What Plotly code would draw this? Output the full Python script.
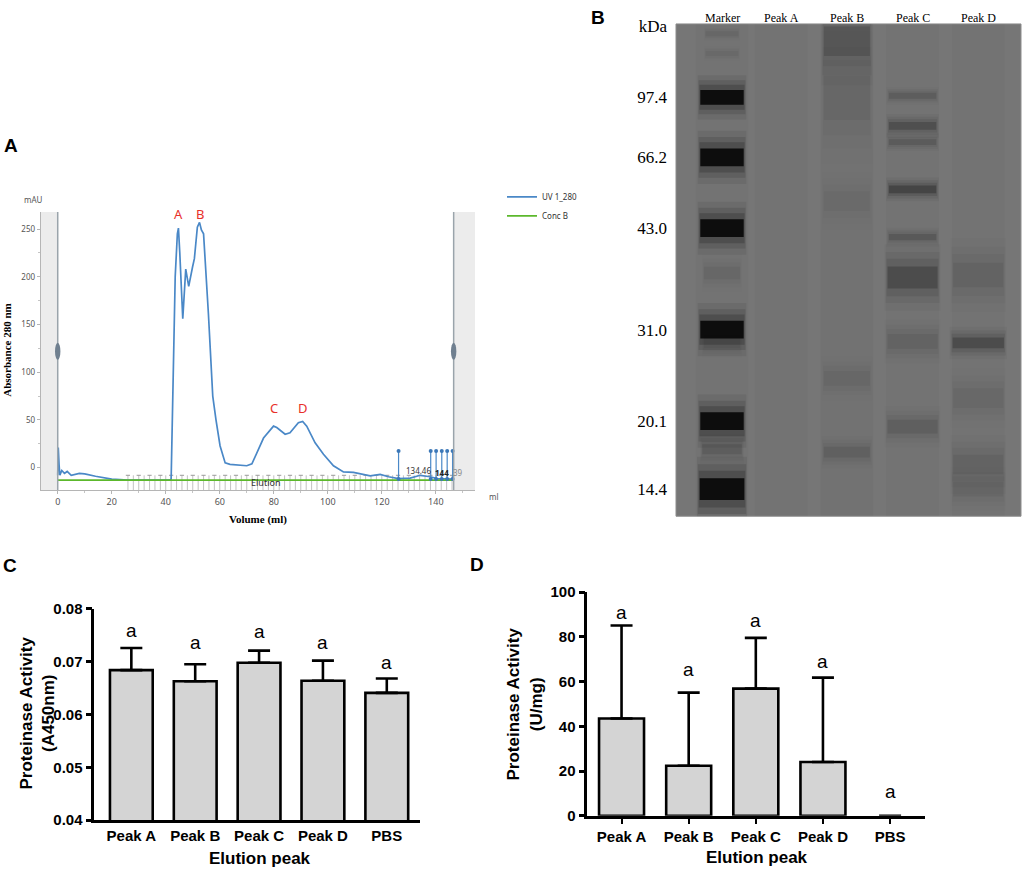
import plotly.graph_objects as go

W, H = 1024, 872

# ---------------- panel A : chromatogram ----------------
uv_ml = [0.0, 0.2, 0.5, 0.8, 1.5, 2.5, 3.5, 5, 8, 10, 14, 20, 26, 30, 41.5, 42.0, 42.5, 43.5,
         44.3, 44.7, 45.2, 46.3, 47.4, 48.5, 49.9, 50.6, 51.7, 52.5, 53.2, 54.0, 55.8, 57.4,
         58.6, 60.1, 62, 63.8, 70, 71.9, 76.2, 79.9, 81.1, 84.2, 86, 89.1, 90.7, 92.2, 95.3,
         98.4, 102.1, 105.8, 109.5, 113.2, 115.7, 119.4, 122.5, 126.2, 130.5, 134.2, 137.9,
         140.4, 146.5]
uv_mau = [-8, 21, 3, -8, -3, -6, -4, -8, -6, -6.5, -9, -12, -13, -13, -13, -12, 60, 200,
          245, 251, 225, 156, 208, 190, 210, 219, 252, 257, 249, 245, 161, 75,
          50, 23, 5, 3.5, 2, 4, 31, 43.5, 42, 35, 36.5, 47, 48.5, 43.5, 26,
          14, 2, -4.5, -5, -7, -8.5, -7, -9.5, -11.5, -11, -8, -9.5,
          -11.5, -12]
concb_ml = [0, 146.5]
concb_val = [-13, -13]

fraction_ml = [26, 28, 30, 32, 34, 36, 38, 40, 42, 44, 46, 48, 50, 52, 54, 56, 58, 60, 62, 64,
               66, 68, 70, 72, 74, 76, 78, 80, 82, 84, 86, 88, 90, 92, 94, 96, 98, 100, 102,
               104, 106, 108, 110, 112, 114, 116, 118, 120, 122, 124, 126, 128, 130, 132, 134,
               136, 138, 140, 142, 144, 146]
event_ml = [126.2, 138.1, 140.1, 142.2, 144.2, 146.2]

peak_names = ["A", "B", "C", "D"]
peak_ml = [44.7, 52.5, 80.0, 90.7]
peak_label_y = [266, 266, 62, 62]

# ---------------- panel B : SDS-PAGE ----------------
lanes = ["Marker", "Peak A", "Peak B", "Peak C", "Peak D"]
lane_pos = [0.0, 0.9, 1.9, 2.9, 3.9]
kda_labels = ["kDa", "97.4", "66.2", "43.0", "31.0", "20.1", "14.4"]
kda_rf = [0.005, 0.149, 0.271, 0.415, 0.621, 0.807, 0.945]

# lane index, migration (0 top .. 1 bottom), band height, darkness, band width
band_lane = [0, 0, 0, 0, 0, 0, 0, 0, 0, 0, 0,
             2, 2, 2, 2, 2,
             3, 3, 3, 3, 3, 3, 3, 3,
             4, 4, 4, 4, 4]
band_rf = [0.149, 0.271, 0.415, 0.621, 0.807, 0.945, 0.02, 0.06, 0.506, 0.648, 0.864,
           0.035, 0.15, 0.36, 0.72, 0.87,
           0.146, 0.207, 0.24, 0.336, 0.433, 0.515, 0.645, 0.818,
           0.51, 0.648, 0.76, 0.895, 0.945]
band_h = [0.03, 0.036, 0.036, 0.036, 0.036, 0.044, 0.01, 0.01, 0.025, 0.02, 0.02,
          0.06, 0.09, 0.04, 0.03, 0.022,
          0.012, 0.016, 0.012, 0.016, 0.013, 0.045, 0.03, 0.028,
          0.05, 0.022, 0.04, 0.04, 0.03]
band_dark = [1.0, 1.0, 1.0, 1.0, 1.0, 1.0, 0.12, 0.08, 0.12, 0.1, 0.22,
             0.3, 0.1, 0.06, 0.1, 0.18,
             0.22, 0.4, 0.25, 0.55, 0.28, 0.45, 0.15, 0.2,
             0.15, 0.45, 0.1, 0.15, 0.12]
band_w = [0.66, 0.66, 0.66, 0.66, 0.66, 0.68, 0.5, 0.5, 0.55, 0.55, 0.6,
          0.7, 0.7, 0.7, 0.7, 0.7,
          0.72, 0.72, 0.72, 0.72, 0.72, 0.76, 0.76, 0.76,
          0.76, 0.78, 0.76, 0.76, 0.76]
lane_shade = [0.025, 0.03, 0.035, 0.03, 0.03]

# ---------------- panels C & D : activity ----------------
groups = ["Peak A", "Peak B", "Peak C", "Peak D", "PBS"]
a450_mean = [0.0684, 0.0663, 0.0698, 0.0664, 0.0641]
a450_sd = [0.0042, 0.0032, 0.0023, 0.0038, 0.0027]
a450_letter_y = [0.0759, 0.0736, 0.0757, 0.0736, 0.0699]
umg_mean = [43.5, 22.4, 56.9, 24.1, 0]
umg_sd = [41.6, 32.7, 22.7, 37.7, 0]
umg_letter_y = [91.1, 65.5, 87.4, 69.2, 11.1]
letters = ["a", "a", "a", "a", "a"]

# the photographed page lands ~8px lower and ~1.6% shorter than the figure itself,
# so vertical positions read off the reference are mapped back before use
Y_SHIFT, Y_SCALE = 8, 0.984


def px_x(v):
    return v / W


def px_y(v):
    return 1 - max(0.0, (v - Y_SHIFT) / Y_SCALE) / H


fig = go.Figure()

# ---- A traces
frac_x, frac_y = [], []
for m in fraction_ml:
    frac_x += [m, m, None]
    frac_y += [-23.4, -8, None]
fig.add_trace(go.Scatter(x=frac_x, y=frac_y, mode="lines", line=dict(color="#b3b3b3", width=0.8),
                         showlegend=False, hoverinfo="skip", xaxis="x", yaxis="y"))
fig.add_trace(go.Scatter(x=fraction_ml[::2], y=[-8] * len(fraction_ml[::2]), mode="markers",
                         marker=dict(symbol="line-ew", size=3, line=dict(color="#999999", width=1)),
                         showlegend=False, hoverinfo="skip", xaxis="x", yaxis="y"))
fig.add_trace(go.Scatter(x=uv_ml, y=uv_mau, mode="lines", name="UV 1_280",
                         line=dict(color="#4a88c7", width=1.7), xaxis="x", yaxis="y"))
fig.add_trace(go.Scatter(x=concb_ml, y=concb_val, mode="lines", name="Conc B",
                         line=dict(color="#5cb82c", width=1.8), xaxis="x", yaxis="y"))
ev_x, ev_y = [], []
for m in event_ml:
    ev_x += [m, m, None]
    ev_y += [-12, 17.4, None]
fig.add_trace(go.Scatter(x=ev_x, y=ev_y, mode="lines", line=dict(color="#4a88c7", width=1.2),
                         showlegend=False, hoverinfo="skip", xaxis="x", yaxis="y"))
fig.add_trace(go.Scatter(x=event_ml + event_ml, y=[17.4] * len(event_ml) + [-12] * len(event_ml),
                         mode="markers", marker=dict(color="#3c78b8", size=4),
                         showlegend=False, hoverinfo="skip", xaxis="x", yaxis="y"))

# ---- B traces: faint lane strips, then soft halos + band cores
fig.add_trace(go.Bar(x=lane_pos, base=[0] * len(lane_pos), y=[1] * len(lane_pos), width=0.8,
                     marker=dict(color=["rgba(20,20,20,%.3f)" % s for s in lane_shade],
                                 line=dict(width=0)),
                     showlegend=False, hoverinfo="skip", xaxis="x2", yaxis="y2"))
bx = [lane_pos[i] for i in band_lane]
for hs, ws, a in [(3.0, 1.12, 0.07), (2.3, 1.08, 0.12), (1.7, 1.04, 0.2), (1.0, 1.0, 0.5)]:
    cols = []
    for d in band_dark:
        alpha = d * a
        if d >= 1 and a == 0.5:
            alpha = 0.95
        cols.append("rgba(10,10,10,%.3f)" % alpha)
    fig.add_trace(go.Bar(x=bx, base=[r - h * hs / 2 for r, h in zip(band_rf, band_h)],
                         y=[h * hs for h in band_h], width=[w * ws for w in band_w],
                         marker=dict(color=cols, line=dict(width=0)),
                         showlegend=False, hoverinfo="skip", xaxis="x2", yaxis="y2"))

# ---- C / D bars (no outline or error cap where the value is zero)
c_outline = [2.6 if v > 0 else 0 for v in a450_mean]
d_outline = [2.6 if v > 0 else 0 for v in umg_mean]
c_err = [s if s > 0 else None for s in a450_sd]
d_err = [s if s > 0 else None for s in umg_sd]
fig.add_trace(go.Bar(x=groups, y=a450_mean, width=0.67,
                     marker=dict(color="#d4d4d4", line=dict(color="black", width=c_outline)),
                     error_y=dict(type="data", array=c_err, symmetric=False,
                                  arrayminus=[0] * len(groups), color="black",
                                  thickness=2.6, width=11),
                     showlegend=False, xaxis="x3", yaxis="y3"))
fig.add_trace(go.Bar(x=groups, y=umg_mean, width=0.67,
                     marker=dict(color="#d4d4d4", line=dict(color="black", width=d_outline)),
                     error_y=dict(type="data", array=d_err, symmetric=False,
                                  arrayminus=[None if e is None else 0 for e in d_err],
                                  color="black", thickness=2.6, width=11),
                     showlegend=False, xaxis="x4", yaxis="y4"))

chrom_tick = dict(family="Noto Sans", size=9, color="#555555")
bold_tick = dict(family="Liberation Sans", size=15, color="black", weight="bold")

fig.update_layout(
    width=W, height=H, margin=dict(l=0, r=0, t=0, b=0),
    paper_bgcolor="white", plot_bgcolor="rgba(0,0,0,0)",
    barmode="overlay",
    legend=dict(x=px_x(502), y=px_y(182), xanchor="left", yanchor="top",
                font=dict(family="Noto Sans", size=8, color="#333333"),
                bgcolor="rgba(0,0,0,0)", itemwidth=30, tracegroupgap=0),
    xaxis=dict(domain=[px_x(40.7), px_x(475)], range=[-6.3, 154.5], anchor="y",
               tickvals=[0, 20, 40, 60, 80, 100, 120, 140], tickfont=chrom_tick,
               showline=True, linecolor="#b5b5b5", linewidth=1, ticks="outside",
               ticklen=3, tickcolor="#b5b5b5", showgrid=False, zeroline=False,
               minor=dict(dtick=10, tick0=0, ticks="outside", ticklen=2, tickcolor="#c5c5c5")),
    yaxis=dict(domain=[px_y(490.7), px_y(211.6)], range=[-23.4, 268], anchor="x",
               tickvals=[0, 50, 100, 150, 200, 250], tickfont=dict(family="Noto Sans", size=8, color="#555555"),
               showline=True, linecolor="#b5b5b5", linewidth=1, ticks="outside",
               ticklen=3, tickcolor="#b5b5b5", showgrid=False, zeroline=False,
               minor=dict(dtick=25, tick0=0, ticks="outside", ticklen=2, tickcolor="#c5c5c5")),
    xaxis2=dict(domain=[px_x(676), px_x(1021)], range=[-0.7, 4.55], anchor="y2",
                visible=False),
    yaxis2=dict(domain=[px_y(517), px_y(23)], range=[1, 0], anchor="x2",
                tickvals=kda_rf, ticktext=kda_labels, showgrid=False, zeroline=False,
                showline=False, ticks="", ticklabelstandoff=8,
                tickfont=dict(family="Liberation Serif", size=17, color="black")),
    xaxis3=dict(domain=[px_x(94.3), px_x(420)], range=[-0.58, 4.52], anchor="y3",
                showline=True, linecolor="black", linewidth=2.6, ticks="",
                tickfont=bold_tick, showgrid=False),
    yaxis3=dict(domain=[px_y(822), px_y(610)], range=[0.04, 0.08], anchor="x3",
                tickvals=[0.04, 0.05, 0.06, 0.07, 0.08], tickformat=".2f",
                showline=True, linecolor="black", linewidth=2.6, ticks="outside",
                ticklen=6, tickwidth=2.6, tickcolor="black", tickfont=bold_tick,
                showgrid=False, zeroline=False),
    xaxis4=dict(domain=[px_x(587.3), px_x(925)], range=[-0.51, 4.52], anchor="y4",
                showline=True, linecolor="black", linewidth=2.6, ticks="outside",
                ticklen=5, tickwidth=2.2, tickcolor="black",
                tickfont=bold_tick, showgrid=False),
    yaxis4=dict(domain=[px_y(817.7), px_y(593.3)], range=[0, 100], anchor="x4",
                tickvals=[0, 20, 40, 60, 80, 100],
                showline=True, linecolor="black", linewidth=2.6, ticks="outside",
                ticklen=6, tickwidth=2.6, tickcolor="black", tickfont=bold_tick,
                showgrid=False, zeroline=False),
)

shapes = [
    # chromatogram side bands and handles
    dict(type="rect", xref="x", yref="y domain", x0=-6.3, x1=0, y0=0, y1=1,
         fillcolor="#ececec", line=dict(width=0), layer="below"),
    dict(type="rect", xref="x", yref="y domain", x0=146.6, x1=154.5, y0=0, y1=1,
         fillcolor="#ececec", line=dict(width=0), layer="below"),
    dict(type="line", xref="x", yref="y domain", x0=0, x1=0, y0=0, y1=1,
         line=dict(color="#9aa4ab", width=1.5)),
    dict(type="line", xref="x", yref="y domain", x0=146.6, x1=146.6, y0=0, y1=1,
         line=dict(color="#9aa4ab", width=1.5)),
    dict(type="circle", xref="x", yref="y", x0=-1.0, x1=1.0, y0=113, y1=131,
         fillcolor="#708090", line=dict(width=0)),
    dict(type="circle", xref="x", yref="y", x0=145.6, x1=147.6, y0=113, y1=131,
         fillcolor="#708090", line=dict(width=0)),
    # gel background
    dict(type="rect", xref="x2 domain", yref="y2 domain", x0=0, x1=1, y0=0, y1=1,
         fillcolor="#767676", line=dict(color="#8c8c8c", width=1), layer="below"),
]
fig.update_layout(shapes=shapes)

ann = []


def text(x, y, s, size, color="black", family="Liberation Sans", xref="paper", yref="paper",
         angle=0, yanchor="middle"):
    ann.append(dict(x=x, y=y, xref=xref, yref=yref, text=s, showarrow=False, textangle=angle,
                    xanchor="center", yanchor=yanchor,
                    font=dict(family=family, size=size, color=color)))


# panel letters
text(px_x(11), px_y(145), "<b>A</b>", 19)
text(px_x(598), px_y(17), "<b>B</b>", 19)
text(px_x(10), px_y(566), "<b>C</b>", 19)
text(px_x(477), px_y(565), "<b>D</b>", 19)

# panel A texts
text(px_x(33), px_y(199), "mAU", 8, "#555555", "Noto Sans")
text(px_x(494), px_y(497), "ml", 8, "#555555", "Noto Sans")
text(px_x(7), px_y(350), "<b>Absorbance 280 nm</b>", 11, family="Liberation Serif", angle=-90)
text(px_x(258), px_y(520), "<b>Volume (ml)</b>", 11, family="Liberation Serif")
for n, m, yv in zip(peak_names, peak_ml, peak_label_y):
    text(m, yv, n, 13, "#e8302a", "Noto Sans", xref="x", yref="y")
text(77, -16, "Elution", 9, "#333333", "Noto Sans", xref="x", yref="y")
text(133.5, -3.5, "134.46", 8, "#333333", "Noto Sans", xref="x", yref="y")
text(142.3, -5, "<b>144</b>", 8, "#222222", "Noto Sans", xref="x", yref="y")
text(148.2, -5, "39", 8, "#888888", "Noto Sans", xref="x", yref="y")

# panel B lane headers (sit at the very top of the page)
for name, lp in zip(lanes, lane_pos):
    text(lp, 1.0, name, 12, family="Liberation Serif", xref="x2", yanchor="top")

# panel C / D titles
text(px_x(37), px_y(715), "<b>Proteinase Activity<br>(A450nm)</b>", 17, angle=-90)
text(px_x(260), px_y(861), "<b>Elution peak</b>", 17)
text(px_x(525), px_y(706), "<b>Proteinase Activity<br>(U/mg)</b>", 17, angle=-90)
text(px_x(757), px_y(860), "<b>Elution peak</b>", 17)
for g, yv, l in zip(groups, a450_letter_y, letters):
    text(g, yv, l, 19, xref="x3", yref="y3")
for g, yv, l in zip(groups, umg_letter_y, letters):
    text(g, yv, l, 19, xref="x4", yref="y4")

fig.update_layout(annotations=ann)

# drop the default body margin so the figure starts at the page's left edge
fig.write_html("out.html", config={"displayModeBar": False},
               post_script="document.body.style.margin='0';")
